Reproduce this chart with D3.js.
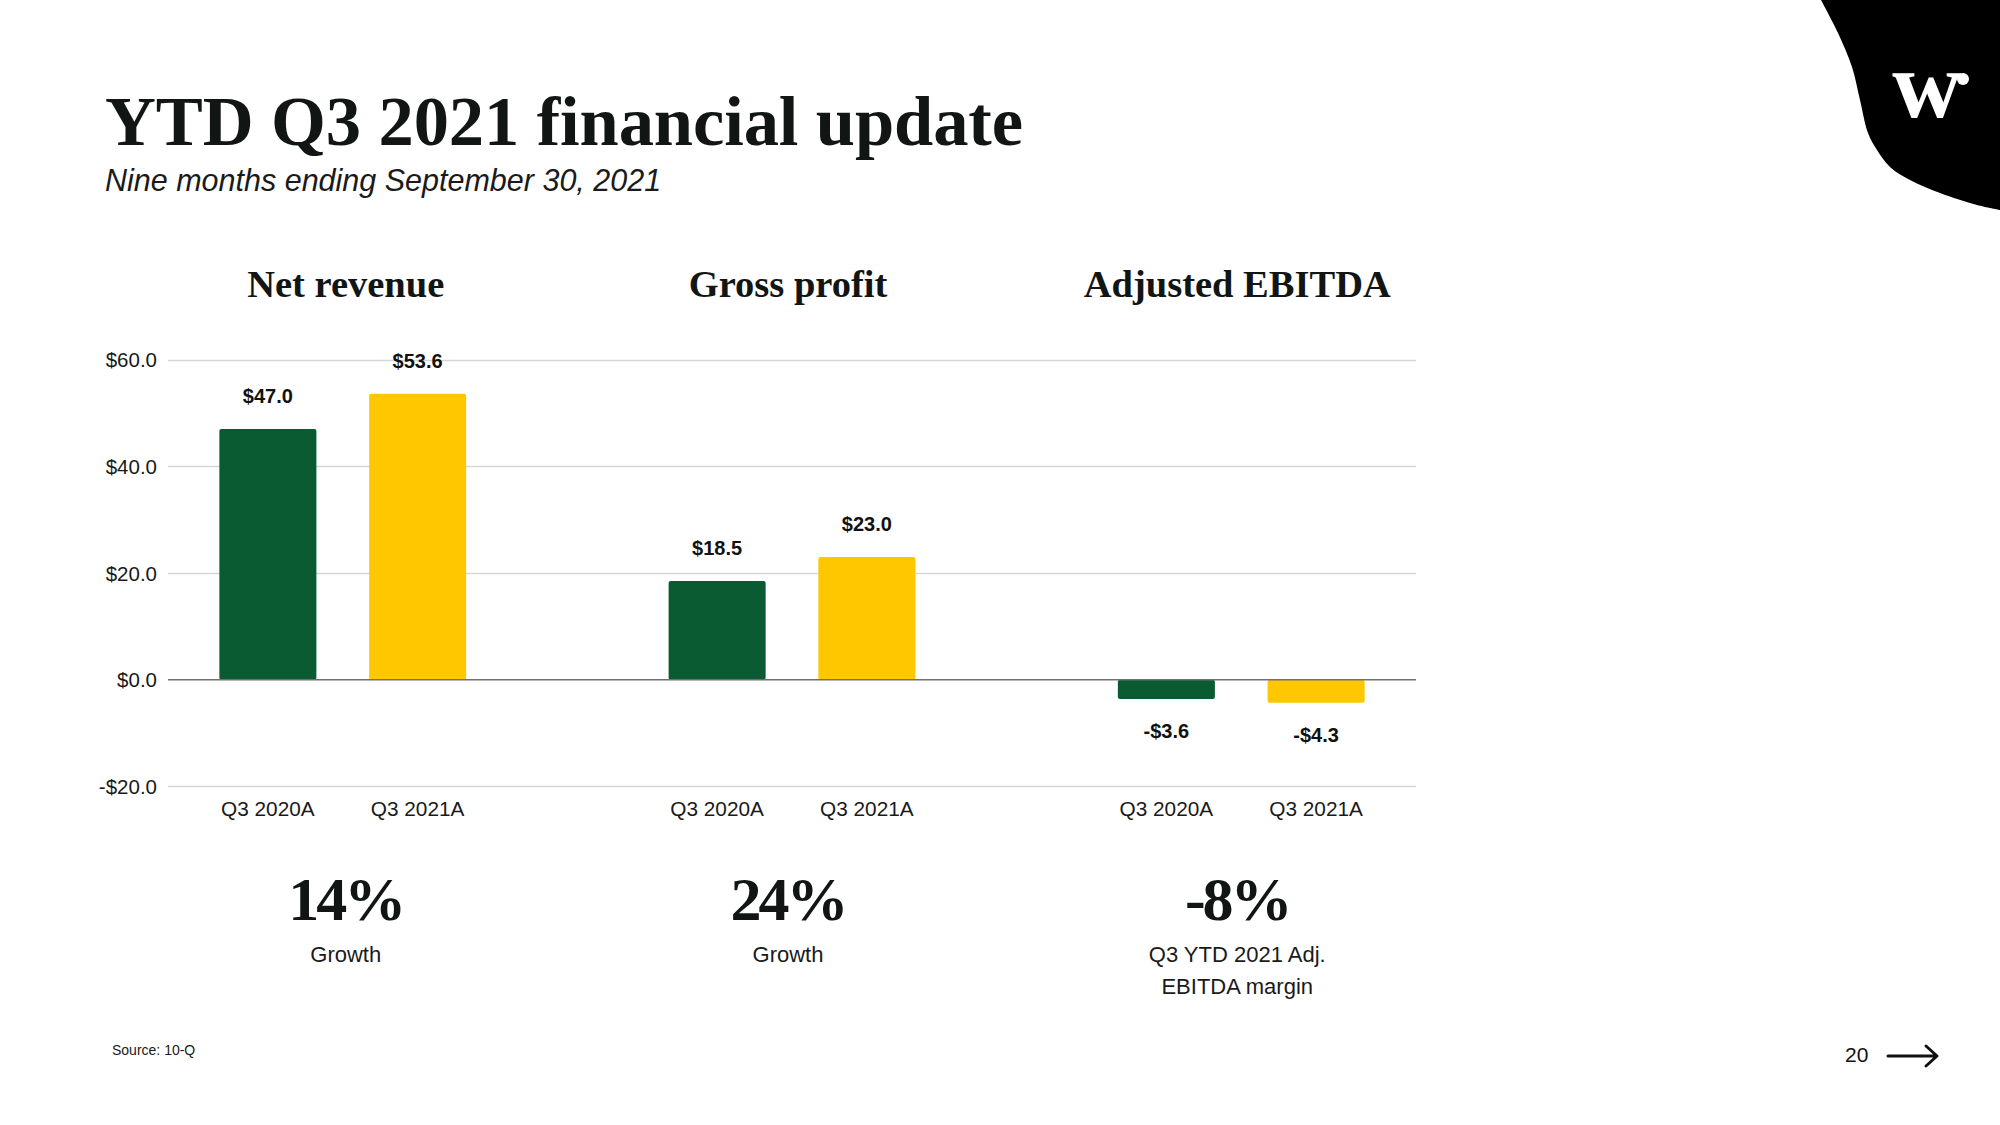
<!DOCTYPE html>
<html>
<head>
<meta charset="utf-8">
<script src="https://cdn.jsdelivr.net/npm/d3@7"></script>
<style>
  html, body { margin: 0; padding: 0; background: #ffffff; }
  svg { display: block; }
</style>
</head>
<body>
<script>
// ---- data ----
const groups = ["Net revenue", "Gross profit", "Adjusted EBITDA"];
const periods = ["Q3 2020A", "Q3 2021A"];
const values2020 = [47.0, 18.5, -3.6];
const values2021 = [53.6, 23.0, -4.3];
const valueLabels2020 = ["$47.0", "$18.5", "-$3.6"];
const valueLabels2021 = ["$53.6", "$23.0", "-$4.3"];
const yTicks = [-20, 0, 20, 40, 60];
const yTickLabels = ["-$20.0", "$0.0", "$20.0", "$40.0", "$60.0"];
const kpiValues = ["14%", "24%", "-8%"];
const kpiLabels = [["Growth"], ["Growth"], ["Q3 YTD 2021 Adj.", "EBITDA margin"]];
const titleText = "YTD Q3 2021 financial update";
const subtitleText = "Nine months ending September 30, 2021";
const sourceText = "Source: 10-Q";
const pageNumber = "20";

// ---- styles ----
const W = 2000, H = 1125;
const GREEN = "#0a5a32", YELLOW = "#ffc700", INK = "#111614";
const SERIF = "'Liberation Serif', 'DejaVu Serif', serif";
const SANS = "'Liberation Sans', Arial, sans-serif";
const textOffset = [3, -4, -4]; // per-group horizontal nudge of centred text

const svg = d3.select("body").append("svg").attr("width", W).attr("height", H);
svg.append("rect").attr("width", W).attr("height", H).attr("fill", "#fff");

// title / subtitle
svg.append("text").attr("x", 105).attr("y", 145)
  .attr("font-family", SERIF).attr("font-weight", 700).attr("font-size", 70.5)
  .attr("fill", INK).attr("textLength", 918).attr("lengthAdjust", "spacing").text(titleText);
svg.append("text").attr("x", 105).attr("y", 191)
  .attr("font-family", SANS).attr("font-style", "italic").attr("font-size", 30.5)
  .attr("fill", "#1a1a1a").text(subtitleText);

// logo blob
const blobPts = [[1821,0],[1838,33],[1852,67],[1860,100],[1868,133],[1877,150],[1890,167],[1910,180],[1940,193],[1977,205],[2000,210]];
const blobLine = d3.line().curve(d3.curveCatmullRom);
svg.append("path").attr("d", blobLine(blobPts) + "L2000,0Z").attr("fill", "#000");
svg.append("text").attr("x", 1927).attr("y", 117).attr("text-anchor", "middle")
  .attr("font-family", SERIF).attr("font-weight", 700).attr("font-size", 96)
  .attr("fill", "#fff").text("w");
svg.append("circle").attr("cx", 1963).attr("cy", 79).attr("r", 6).attr("fill", "#fff");

// ---- scales ----
const slots = [];
groups.forEach((g, gi) => {
  periods.forEach((p, pi) => slots.push(gi + "-" + pi));
  if (gi < groups.length - 1) slots.push("gap" + gi);
});
const x = d3.scaleBand().domain(slots).range([168, 1416]).paddingInner(0.352).paddingOuter(0.343);
const y = d3.scaleLinear().domain([-20, 60]).range([786.4, 359.7]);
const bw = x.bandwidth();
const groupCenter = gi => (x(gi + "-0") + x(gi + "-1") + bw) / 2;

// gridlines
const grid = svg.append("g");
grid.selectAll("line").data(yTicks.filter(t => t !== 0)).join("line")
  .attr("x1", 168).attr("x2", 1416)
  .attr("y1", d => Math.round(y(d)) + 0.5).attr("y2", d => Math.round(y(d)) + 0.5)
  .attr("stroke", "#d6d6d6").attr("stroke-width", 1.3);

// y axis labels via d3 axis
const yAxis = d3.axisLeft(y).tickValues(yTicks).tickSize(0).tickPadding(0)
  .tickFormat((d, i) => yTickLabels[i]);
const ya = svg.append("g").attr("transform", "translate(157,0)").call(yAxis);
ya.select(".domain").remove();
ya.selectAll("text").attr("font-family", SANS).attr("font-size", 20.5).attr("fill", "#1a1a1a")
  .attr("dy", "0.35em");

// bars
const barData = [];
groups.forEach((g, gi) => {
  barData.push({ key: gi + "-0", v: values2020[gi], label: valueLabels2020[gi], color: GREEN, cat: periods[0], gi });
  barData.push({ key: gi + "-1", v: values2021[gi], label: valueLabels2021[gi], color: YELLOW, cat: periods[1], gi });
});
svg.append("g").selectAll("rect").data(barData).join("rect")
  .attr("x", d => x(d.key)).attr("width", bw)
  .attr("y", d => Math.min(y(d.v), y(0)))
  .attr("height", d => Math.abs(y(d.v) - y(0)))
  .attr("rx", 2).attr("fill", d => d.color);

// zero line
svg.append("line").attr("x1", 168).attr("x2", 1416)
  .attr("y1", y(0)).attr("y2", y(0)).attr("stroke", "#707070").attr("stroke-width", 1.6);

// value labels
svg.append("g").selectAll("text").data(barData).join("text")
  .attr("x", d => x(d.key) + bw / 2)
  .attr("y", d => d.v >= 0 ? y(d.v) - 26 : y(d.v) + 39)
  .attr("text-anchor", "middle").attr("font-family", SANS).attr("font-weight", 700)
  .attr("font-size", 20).attr("fill", "#111").text(d => d.label);

// category labels
svg.append("g").selectAll("text").data(barData).join("text")
  .attr("x", d => x(d.key) + bw / 2).attr("y", 816)
  .attr("text-anchor", "middle").attr("font-family", SANS).attr("font-size", 20.8)
  .attr("fill", "#1a1a1a").text(d => d.cat);

// group titles
svg.append("g").selectAll("text").data(groups).join("text")
  .attr("x", (d, i) => groupCenter(i) + textOffset[i]).attr("y", 297)
  .attr("text-anchor", "middle").attr("font-family", SERIF).attr("font-weight", 700)
  .attr("font-size", 38.5).attr("fill", INK).text(d => d);

// KPI numbers
svg.append("g").selectAll("text").data(kpiValues).join("text")
  .attr("x", (d, i) => groupCenter(i) + textOffset[i]).attr("y", 920)
  .attr("text-anchor", "middle").attr("font-family", SERIF).attr("font-weight", 700)
  .attr("font-size", 62).attr("fill", INK).attr("letter-spacing", -3).text(d => d);

// KPI labels
const kl = svg.append("g");
kpiLabels.forEach((lines, i) => {
  lines.forEach((ln, j) => {
    kl.append("text").attr("x", groupCenter(i) + textOffset[i]).attr("y", 962 + j * 32)
      .attr("text-anchor", "middle").attr("font-family", SANS).attr("font-size", 22)
      .attr("fill", "#1a1a1a").text(ln);
  });
});

// footer
svg.append("text").attr("x", 112).attr("y", 1055).attr("font-family", SANS)
  .attr("font-size", 14).attr("fill", "#1a1a1a").text(sourceText);
svg.append("text").attr("x", 1845).attr("y", 1062).attr("font-family", SANS)
  .attr("font-size", 21).attr("fill", "#111").text(pageNumber);
svg.append("path").attr("d", "M1888,1056H1936M1926,1046L1937,1056L1926,1066")
  .attr("fill", "none").attr("stroke", "#111").attr("stroke-width", 3)
  .attr("stroke-linecap", "round").attr("stroke-linejoin", "round");
</script>
</body>
</html>
